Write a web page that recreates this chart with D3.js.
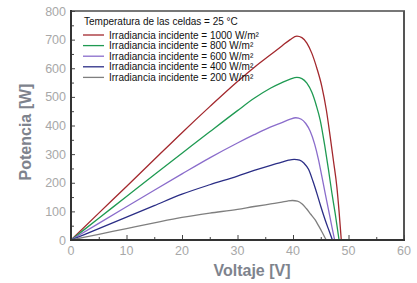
<!DOCTYPE html>
<html><head><meta charset="utf-8">
<script src="https://cdn.jsdelivr.net/npm/d3@7/dist/d3.min.js"></script>
<style>body{margin:0;background:#fff}svg{display:block}</style>
</head><body><svg id="c" width="417" height="283"></svg>
<script>
const xTicks=[0,10,20,30,40,50,60];
const yTicks=[0,100,200,300,400,500,600,700,800];
const legendTitle="Temperatura de las celdas = 25 °C";
const seriesNames=["Irradiancia incidente = 1000 W/m²","Irradiancia incidente = 800 W/m²","Irradiancia incidente = 600 W/m²","Irradiancia incidente = 400 W/m²","Irradiancia incidente = 200 W/m²"];
const colors=["#a3282d","#1f9a52","#8a6ccb","#2b2e86","#7f7f7f"];
const s1000=[[0,0],[5,94],[10,187],[15,281],[20,375],[25,466],[30,554],[33,603],[36,648],[38,678],[39.5,700],[40.7,712],[41.6,707],[42.5,688],[43.4,652],[44.3,600],[45.2,536],[46,455],[46.7,361],[47.3,275],[47.9,186],[48.3,100],[48.7,0]];
const s800=[[0,0],[5,76],[10,152],[15,228],[20,303],[25,378],[30,452],[33,495],[36,531],[38,550],[39.5,562],[40.7,568],[41.6,564],[42.5,548],[43.4,516],[44.2,470],[44.9,419],[45.7,332],[46.4,245],[47,165],[47.6,93],[48.3,0]];
const s600=[[0,0],[5,58],[10,116],[15,174],[20,231],[25,287],[30,339],[33,368],[36,395],[38,410],[39.4,421],[40.5,427],[41.5,422],[42.3,407],[43.1,380],[43.9,335],[44.6,280],[45.2,222],[45.8,163],[46.4,105],[47,47],[47.5,0]];
const s400=[[0,0],[5,40],[10,80],[15,120],[20,160],[25,193],[30,223],[33,243],[36,261],[38,272],[39.2,279],[40.2,282],[41.2,279],[42,268],[42.8,247],[43.6,205],[44.3,163],[45,118],[45.8,70],[46.5,32],[47.1,0]];
const s200=[[0,0],[5,20],[10,40],[15,60],[20,79],[25,94],[30,107],[33,117],[36,126],[38,132],[39,136],[39.9,138],[40.8,136],[41.6,127],[42.4,110],[43.2,90],[44,70],[44.6,50],[45.2,29],[45.6,14],[46,0]];
const series=[s1000,s800,s600,s400,s200];

const svg=d3.select("#c");
const L=71,R=404,T=11,B=240;
const x=d3.scaleLinear().domain([0,60]).range([L,R]);
const y=d3.scaleLinear().domain([0,800]).range([B,T]);

svg.append("line").attr("x1",L).attr("x2",R+1).attr("y1",T).attr("y2",T).attr("stroke","#777").attr("stroke-width",2);
svg.append("line").attr("x1",R).attr("x2",R).attr("y1",T).attr("y2",B).attr("stroke","#555").attr("stroke-width",2);

const xAxis=d3.axisBottom(x).tickValues(d3.range(0,61,5)).tickSize(-5).tickFormat("");
const gx=svg.append("g").attr("transform",`translate(0,${B})`).call(xAxis);
gx.selectAll(".tick line").attr("y2",d=>d%10===0?-5:-3).attr("stroke","#444");
gx.select(".domain").remove();
const yAxis=d3.axisLeft(y).tickValues(d3.range(0,801,50)).tickSize(-4).tickFormat("");
const gy=svg.append("g").attr("transform",`translate(${L},0)`).call(yAxis);
gy.selectAll(".tick line").attr("x2",d=>d%100===0?4:3).attr("stroke","#444");
gy.select(".domain").remove();

svg.append("g").selectAll("text").data(xTicks).join("text")
 .attr("x",d=>x(d)).attr("y",B+15).attr("text-anchor","middle")
 .attr("font-family","Liberation Sans, Arial, sans-serif").attr("font-size",12.5).attr("fill","#a8a8a8").text(d=>d);
svg.append("g").selectAll("text").data(yTicks).join("text")
 .attr("x",L-5).attr("y",d=>y(d)+4.5).attr("text-anchor","end")
 .attr("font-family","Liberation Sans, Arial, sans-serif").attr("font-size",12.5).attr("fill","#a8a8a8").text(d=>d);

const line=d3.line().x(d=>x(d[0])).y(d=>y(d[1])).curve(d3.curveMonotoneX);
series.forEach((s,i)=>{
 svg.append("path").datum(s).attr("d",line).attr("fill","none").attr("stroke",colors[i]).attr("stroke-width",1.3);
});

svg.append("line").attr("x1",L).attr("x2",L).attr("y1",T-1).attr("y2",B+1).attr("stroke","#333").attr("stroke-width",2);
svg.append("line").attr("x1",L-1).attr("x2",R+1).attr("y1",B).attr("y2",B).attr("stroke","#333").attr("stroke-width",2);

const lg=svg.append("g").attr("font-family","Liberation Sans, Arial, sans-serif").attr("font-size",10);
lg.append("text").attr("x",84).attr("y",25).attr("fill","#111").text(legendTitle);
seriesNames.forEach((n,i)=>{
 const yy=35+i*10.6;
 lg.append("line").attr("x1",83).attr("x2",104).attr("y1",yy).attr("y2",yy).attr("stroke",colors[i]).attr("stroke-width",1.3);
 lg.append("text").attr("x",109).attr("y",yy+3.5).attr("fill","#111").text(n);
});

svg.append("text").attr("x",252).attr("y",276).attr("text-anchor","middle")
 .attr("font-family","Liberation Sans, Arial, sans-serif").attr("font-weight","bold").attr("font-size",16).attr("fill","#7e838d").text("Voltaje [V]");
svg.append("text").attr("transform","translate(31,132) rotate(-90)").attr("text-anchor","middle")
 .attr("font-family","Liberation Sans, Arial, sans-serif").attr("font-weight","bold").attr("font-size",16).attr("fill","#7e838d").text("Potencia [W]");
</script></body></html>
